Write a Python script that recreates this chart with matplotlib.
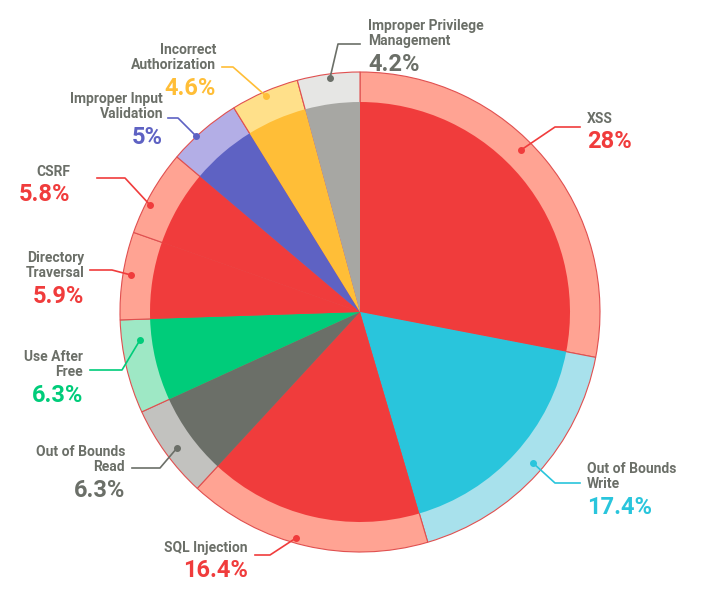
import matplotlib.pyplot as plt

plt.rcParams['font.family'] = ['Roboto', 'DejaVu Sans']

nombres = ["XSS", "Out of Bounds\nWrite", "SQL Injection", "Out of Bounds\nRead",
           "Use After\nFree", "Directory\nTraversal", "CSRF", "Improper Input\nValidation",
           "Incorrect\nAuthorization", "Improper Privilege\nManagement"]
valores = [28, 17.4, 16.4, 6.3, 6.3, 5.9, 5.8, 5, 4.6, 4.2]
textos = ["28%", "17.4%", "16.4%", "6.3%", "6.3%", "5.9%", "5.8%", "5%", "4.6%", "4.2%"]
colores = ["#f03c3c", "#29c5dc", "#f03c3c", "#6b6f68", "#00cc7a", "#f03c3c", "#f03c3c",
           "#5e62c3", "#ffbe37", "#a7a7a3"]
claros = ["#ffa393", "#a8e1ec", "#ffa393", "#c2c2bf", "#9ee8c5", "#ffa393", "#ffa393",
          "#b3aee6", "#ffe08a", "#e6e6e4"]
textcol = ["#f03c3c", "#29c5dc", "#f03c3c", "#6b6f68", "#00cc7a", "#f03c3c", "#f03c3c",
           "#5e62c3", "#ffbe37", "#6b6f68"]

# posiciones en pixeles (x, y arriba), punto, codo, fin de linea, texto, alineacion
etiquetas = [
    ((521, 150), (555, 127), (580, 127), (587, 112), "left"),
    ((533, 463), (555, 483), (580, 483), (587, 462), "left"),
    ((296, 538), (270, 555), (255, 555), (248, 541), "right"),
    ((177, 448), (160, 468), (132, 468), (125, 445), "right"),
    ((140, 340), (122, 370), (90, 370), (83, 350), "right"),
    ((131, 275), (112, 270), (90, 270), (84, 251), "right"),
    ((150, 205), (125, 178), (97, 178), (70, 165), "right"),
    ((196, 136), (178, 118), (168, 118), (163, 92), "right"),
    ((266, 96), (233, 67), (222, 67), (216, 43), "right"),
    ((330, 78), (338, 44), (360, 44), (368, 19), "left"),
]

fig = plt.figure(figsize=(7.06, 6), dpi=100)
ax = fig.add_axes([0, 0, 1, 1])
ax.set_xlim(0, 706)
ax.set_ylim(0, 600)
ax.set_aspect('equal')
ax.axis('off')

centro = (360, 288)
ax.pie(valores, colors=claros, radius=240, center=centro, startangle=90, counterclock=False,
       wedgeprops=dict(linewidth=0.8, edgecolor="#e05050"), frame=True)
ax.pie(valores, colors=colores, radius=210, center=centro, startangle=90, counterclock=False,
       wedgeprops=dict(linewidth=0), frame=True)
ax.set_xlim(0, 706)
ax.set_ylim(0, 600)
ax.axis('off')

for i, (punto, codo, fin, pos, al) in enumerate(etiquetas):
    xs = [punto[0], codo[0], fin[0]]
    ys = [600 - punto[1], 600 - codo[1], 600 - fin[1]]
    ax.plot(xs, ys, color=textcol[i], lw=1.2)
    ax.plot(punto[0], 600 - punto[1], 'o', color=textcol[i], ms=4)
    ax.text(pos[0], 600 - pos[1], nombres[i], ha=al, va="top", fontsize=10,
            fontweight="bold", color="#6b6f68", linespacing=1.1)
    lineas = nombres[i].count("\n") + 1
    ax.text(pos[0], 600 - pos[1] - 16 * lineas - 2, textos[i], ha=al, va="top",
            fontsize=17, fontweight="bold", color=textcol[i])

fig.savefig("out.png", dpi=100)
